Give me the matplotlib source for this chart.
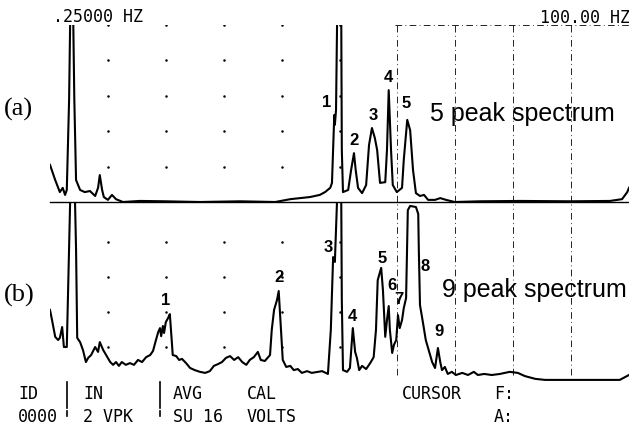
import matplotlib.pyplot as plt
import numpy as np

W, H = 629, 425

# trace (a): frequency in Hz, amplitude in screen divisions
freq_a = [0.0, 0.9, 1.7, 2.2, 2.6, 2.9, 3.3, 3.5, 4.0, 4.2, 4.5, 5.2, 6.0, 6.9, 7.8,
          8.3, 8.6, 9.0, 9.3, 10.0, 10.7, 11.4, 12.6, 15.5, 19.9, 25.9, 32.8, 38.9,
          41.5, 44.9, 46.6, 47.5, 48.4, 48.7, 49.1, 49.2, 49.4, 49.6, 50.3, 50.4,
          50.6, 51.5, 52.0, 52.5, 52.8, 53.2, 53.9, 54.6, 55.1, 55.6, 56.1, 56.5,
          57.0, 57.9, 58.2, 58.5, 58.9, 59.2, 59.9, 60.8, 61.1, 61.7, 62.2, 62.7,
          63.2, 63.9, 64.6, 65.3, 66.5, 67.4, 68.4, 69.9, 74.3, 81.2, 89.8, 96.7,
          98.8, 99.7, 100.0]
amp_a = [1.05, 0.62, 0.28, 0.40, 0.20, 0.34, 2.9, 5.3, 5.3, 2.9, 0.62, 0.34, 0.28,
         0.31, 0.17, 0.40, 0.76, 0.34, 0.14, 0.06, 0.20, 0.08, 0.0, 0.03, 0.02, 0.0,
         0.02, 0.0, 0.08, 0.14, 0.20, 0.28, 0.40, 0.54, 2.46, 2.18, 2.6, 5.3, 5.3,
         1.47, 0.28, 0.34, 0.9, 1.38, 0.9, 0.40, 0.25, 0.48, 1.61, 2.09, 1.81, 1.47,
         0.54, 0.56, 1.47, 3.16, 1.47, 0.48, 0.28, 0.40, 1.19, 2.32, 2.03, 0.9,
         0.25, 0.17, 0.20, 0.06, 0.06, 0.11, 0.06, 0.0, 0.02, 0.03, 0.02, 0.03,
         0.08, 0.28, 0.40]

# trace (b)
freq_b = [0.0, 0.35, 0.9, 1.4, 1.7, 2.1, 2.4, 2.9, 3.5, 4.3, 4.5, 4.7, 5.2, 5.7, 6.2,
          6.6, 7.1, 7.8, 8.3, 8.6, 9.2, 9.7, 10.4, 10.9, 11.4, 11.9, 12.4, 13.1,
          13.8, 14.5, 15.2, 15.9, 16.6, 17.3, 17.8, 18.3, 18.7, 19.0, 19.2, 19.5,
          19.7, 20.0, 20.4, 20.7, 21.2, 21.8, 22.3, 22.8, 23.5, 24.2, 25.0, 25.9,
          26.8, 27.6, 28.3, 29.0, 29.7, 30.4, 31.1, 31.8, 32.5, 33.2, 33.9, 34.5,
          35.2, 35.9, 36.4, 37.1, 38.0, 38.3, 38.7, 39.2, 39.5, 39.9, 40.2, 40.8,
          41.5, 42.1, 42.8, 43.5, 44.4, 45.2, 46.3, 47.0, 48.0, 48.5, 48.9, 49.2,
          49.4, 49.6, 50.3, 50.4, 50.6, 51.3, 51.8, 52.3, 52.7, 53.0, 53.4, 53.9,
          54.6, 55.3, 55.9, 56.3, 56.6, 57.2, 57.5, 57.9, 58.2, 58.5, 58.7, 59.1,
          59.4, 59.8, 60.1, 60.4, 60.8, 61.1, 61.5, 61.8, 62.2, 63.2, 63.6, 63.7,
          63.9, 64.4, 64.9, 65.5, 66.0, 66.5, 67.0, 67.4, 67.7, 68.2, 68.7, 69.4,
          70.1, 71.2, 72.2, 73.2, 73.9, 75.0, 76.3, 77.7, 79.4, 80.8, 82.0, 83.8,
          85.5, 89.8, 95.0, 98.4, 99.3, 100.0]
amp_b = [2.06, 1.77, 1.29, 1.2, 1.26, 1.57, 1.0, 1.0, 5.3, 5.3, 3.8, 1.26, 1.14,
         0.91, 0.57, 0.69, 0.77, 1.0, 0.86, 1.14, 0.91, 0.77, 0.57, 0.49, 0.57,
         0.46, 0.57, 0.49, 0.54, 0.49, 0.63, 0.57, 0.71, 0.77, 0.89, 1.2, 1.43,
         1.54, 1.31, 1.6, 1.4, 1.71, 1.83, 1.94, 0.77, 0.74, 0.63, 0.66, 0.54, 0.4,
         0.34, 0.29, 0.26, 0.31, 0.46, 0.51, 0.57, 0.69, 0.74, 0.63, 0.71, 0.57,
         0.49, 0.63, 0.71, 0.86, 0.63, 0.6, 0.77, 1.49, 2.06, 2.34, 2.6, 1.49, 0.63,
         0.43, 0.46, 0.34, 0.37, 0.26, 0.31, 0.26, 0.29, 0.31, 0.23, 1.49, 3.57,
         3.43, 4.34, 5.3, 5.3, 2.34, 0.34, 0.29, 0.4, 1.54, 0.86, 0.69, 0.34, 0.46,
         0.37, 0.54, 0.71, 1.49, 2.91, 3.26, 2.63, 1.29, 1.77, 2.17, 1.49, 0.83,
         1.06, 1.2, 1.91, 1.54, 1.77, 2.11, 2.4, 4.91, 5.03, 5.0, 4.8, 3.77, 2.2,
         1.71, 1.2, 0.86, 0.57, 0.4, 0.97, 0.57, 0.34, 0.43, 0.23, 0.29, 0.2, 0.26,
         0.2, 0.29, 0.2, 0.23, 0.2, 0.23, 0.29, 0.26, 0.17, 0.09, 0.06, 0.06, 0.06,
         0.06, 0.14, 0.2]

# peak labels
lab_a = ["1", "2", "3", "4", "5"]
lab_a_f = [47.8, 52.5, 55.8, 58.4, 61.5]
lab_a_y = [2.8, 1.75, 2.43, 3.53, 2.77]
lab_b = ["1", "2", "3", "4", "5", "6", "7", "8", "9"]
lab_b_f = [19.9, 39.5, 48.0, 52.3, 57.3, 59.1, 60.3, 64.8, 67.2]
lab_b_y = [2.34, 3.0, 3.83, 1.86, 3.54, 2.77, 2.37, 3.31, 1.43]

fig = plt.figure(figsize=(W / 100, H / 100), dpi=100)
ax_a = fig.add_axes([50 / W, 1 - 202 / H, 579 / W, 177 / H])
ax_b = fig.add_axes([50 / W, 1 - 382 / H, 579 / W, 180 / H])

ax_a.set_ylim(0, 5)
ax_b.set_ylim(0, 180 / 35)
for ax in (ax_a, ax_b):
    ax.set_xlim(0, 100)
    ax.axis("off")

dash = (0, (8, 4, 1, 4))
# dotted graticule on the left, dash-dot lines on the right
for f in [10, 20, 30, 40, 50]:
    ax_a.plot([f] * 5, [1, 2, 3, 4, 5], ".", color="k", ms=1.6)
    ax_b.plot([f] * 4, [1, 2, 3, 4], ".", color="k", ms=1.6)
for f in [60, 70, 80, 90]:
    ax_a.plot([f, f], [0, 5], color="k", lw=0.6, ls=dash)
    ax_b.plot([f, f], [0.2, 5.1], color="k", lw=0.6, ls=dash)
ax_a.plot([59.5, 100], [5, 5], color="k", lw=0.6, ls=dash, clip_on=False)
ax_a.axhline(0, color="k", lw=1.0, clip_on=False)

ax_a.plot(freq_a, amp_a, color="k", lw=1.5)
ax_b.plot(freq_b, amp_b, color="k", lw=1.5)

for t, f, y in zip(lab_a, lab_a_f, lab_a_y):
    ax_a.text(f, y, t, ha="center", va="center", fontsize=12, fontweight="bold",
              family="Liberation Sans")
for t, f, y in zip(lab_b, lab_b_f, lab_b_y):
    ax_b.text(f, y, t, ha="center", va="center", fontsize=12, fontweight="bold",
              family="Liberation Sans")


def ftext(x, y, s, **kw):
    fig.text(x / W, 1 - y / H, s, **kw)


mono = dict(family="DejaVu Sans Mono", fontsize=12, va="baseline")
ftext(53, 22, ".25000 HZ", **mono)
ftext(540, 23, "100.00 HZ", **mono)
ftext(18, 399, "ID", **mono)
ftext(18, 422, "0000", **mono)
ftext(83, 399, "IN", **mono)
ftext(83, 422, "2 VPK", **mono)
ftext(173, 399, "AVG", **mono)
ftext(173, 422, "SU 16", **mono)
ftext(247, 399, "CAL", **mono)
ftext(247, 422, "VOLTS", **mono)
ftext(402, 399, "CURSOR", **mono)
ftext(494, 399, "F:", **mono)
ftext(494, 422, "A:", **mono)
for xb in [67, 160]:
    fig.add_artist(plt.Line2D([xb / W, xb / W], [1 - 382 / H, 1 - 408 / H],
                              color="k", lw=1.2))
    fig.add_artist(plt.Line2D([xb / W, xb / W], [1 - 411 / H, 1 - 416 / H],
                              color="k", lw=1.2))

serif = dict(family="Liberation Serif", fontsize=19, va="center")
ftext(4, 109, "(a)", **serif)
ftext(4, 295, "(b)", **serif)

big = dict(family="Liberation Sans", fontsize=18, va="baseline")
ftext(430, 121, "5 peak spectrum", **big)
ftext(442, 297, "9 peak spectrum", **big)

fig.savefig("out.png", dpi=100)
